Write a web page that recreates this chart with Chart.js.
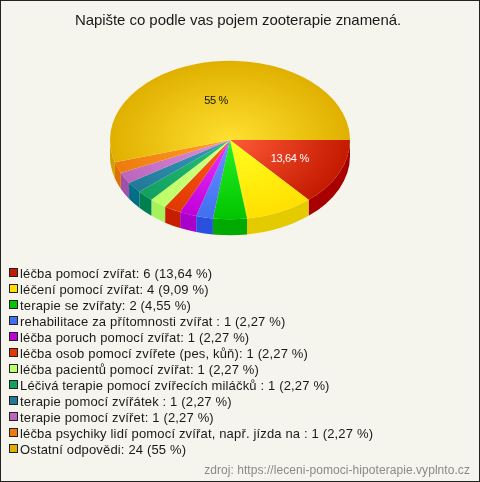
<!DOCTYPE html>
<html>
<head>
<meta charset="utf-8">
<script src="https://cdn.jsdelivr.net/npm/chart.js"></script>
<style>
html, body { margin: 0; padding: 0; background: #f5f5ee; }
#frame { position: relative; width: 478px; height: 480px; border: 1px solid #222; background: #f5f5ee; overflow: hidden; font-family: "Liberation Sans", Arial, sans-serif; color: #1a1a1a; }
canvas { position: absolute; left: -1px; top: -1px; }
#title { position: absolute; left: 0; top: 10px; width: 474px; text-align: center; font-size: 15px; line-height: 18px; letter-spacing: -0.05px; }
#legend { position: absolute; left: 8px; top: 265px; font-size: 13px; line-height: 16px; letter-spacing: 0.16px; }
#legend div { height: 16px; white-space: nowrap; }
#legend i { display: inline-block; width: 7px; height: 7px; border: 1px solid #222; margin-right: 2px; vertical-align: 1px; }
#source { position: absolute; right: 9px; top: 461px; font-size: 12px; line-height: 16px; letter-spacing: 0.06px; color: #8a8a8a; }
</style>
</head>
<body>
<div id="frame">
  <canvas id="pie" width="480" height="482"></canvas>
  <div id="title"></div>
  <div id="legend"></div>
  <div id="source"></div>
</div>
<script>
const titleText = "Napište co podle vas pojem zooterapie znamená.";
const sourceText = "zdroj: https://leceni-pomoci-hipoterapie.vyplnto.cz";
const categories = [
    "léčba pomocí zvířat",
    "léčení pomocí zvířat",
    "terapie se zvířaty",
    "rehabilitace za přítomnosti zvířat ",
    "léčba poruch pomocí zvířat",
    "léčba osob pomocí zvířete (pes, kůň)",
    "léčba pacientů pomocí zvířat",
    "Léčivá terapie pomocí zvířecích miláčků ",
    "terapie pomocí zvířátek ",
    "terapie pomocí zvířet",
    "léčba psychiky lidí pomocí zvířat, např. jízda na ",
    "Ostatní odpovědi"
];
const counts = [6, 4, 2, 1, 1, 1, 1, 1, 1, 1, 1, 24];
const percents = ["13,64", "9,09", "4,55", "2,27", "2,27", "2,27", "2,27", "2,27", "2,27", "2,27", "2,27", "55"];
const innerColors = ["#ff5a38", "#ffff22", "#26f226", "#6a92ff", "#ee35ff", "#ff5c1c", "#d8ff88", "#24c274", "#3a9cba", "#e08ee0", "#ffa224", "#ffe030"];
const outerColors = ["#c41a00", "#ffe000", "#00c400", "#4070f0", "#c000d8", "#e03800", "#bcff66", "#12a060", "#207a98", "#bb66bb", "#ee7a10", "#e0b000"];
const sideColors = ["#a80000", "#e3cb00", "#00aa00", "#2a50e0", "#aa00cc", "#c81e00", "#a5f25a", "#008050", "#006e87", "#a050a8", "#e07000", "#cfa000"];
const labelColors = ["#fff", null, null, null, null, null, null, null, null, null, null, "#111"];
const legendColors = ["#c41a00", "#ffe000", "#00c400", "#4070f0", "#c000d8", "#e03800", "#bcff66", "#12a060", "#207a98", "#bb66bb", "#ee7a10", "#e0b000"];

const squash = 0.66;
const depth = 16;

document.getElementById("title").textContent = titleText;
document.getElementById("source").textContent = sourceText;
const legendBox = document.getElementById("legend");
categories.forEach((name, i) => {
    const row = document.createElement("div");
    const box = document.createElement("i");
    box.style.background = legendColors[i];
    row.appendChild(box);
    row.appendChild(document.createTextNode(name + ": " + counts[i] + " (" + percents[i] + " %)"));
    legendBox.appendChild(row);
});

// tilted pie: squash the top face and draw the rim under it
const tiltPlugin = {
    id: "tilt",
    beforeDatasetsDraw(chart) {
        const ctx = chart.ctx;
        const arcs = chart.getDatasetMeta(0).data;
        ctx.save();
        arcs.forEach((arc, i) => {
            const a = Math.max(arc.startAngle, 0);
            const b = Math.min(arc.endAngle, Math.PI);
            if (b <= a) return;
            const ry = arc.outerRadius * squash;
            ctx.beginPath();
            ctx.ellipse(arc.x, arc.y, arc.outerRadius, ry, 0, a, b);
            ctx.ellipse(arc.x, arc.y + depth, arc.outerRadius, ry, 0, b, a, true);
            ctx.closePath();
            ctx.fillStyle = sideColors[i];
            ctx.fill();
        });
        const cy = arcs[0].y;
        ctx.translate(0, cy);
        ctx.scale(1, squash);
        ctx.translate(0, -cy);
    },
    afterDatasetsDraw(chart) {
        const ctx = chart.ctx;
        ctx.restore();
        ctx.font = '11px "Liberation Sans", Arial, sans-serif';
        ctx.letterSpacing = "-0.3px";
        ctx.textAlign = "center";
        ctx.textBaseline = "middle";
        chart.getDatasetMeta(0).data.forEach((arc, i) => {
            if (!labelColors[i]) return;
            const mid = (arc.startAngle + arc.endAngle) / 2;
            const r = arc.outerRadius * 0.52;
            // the source places its labels a little off the slice's middle line
            const nudge = i === 0 ? 3 : -5;
            ctx.fillStyle = labelColors[i];
            ctx.fillText(percents[i] + " %", arc.x + Math.cos(mid) * r + nudge, arc.y + Math.sin(mid) * r * squash + 2);
        });
    }
};

new Chart(document.getElementById("pie"), {
    type: "pie",
    data: {
        labels: categories,
        datasets: [{
            data: counts,
            borderWidth: 0,
            clip: false,
            backgroundColor: (c) => {
                const area = c.chart.chartArea;
                if (!area) return outerColors[c.dataIndex];
                const x = (area.left + area.right) / 2;
                const y = (area.top + area.bottom) / 2;
                const g = c.chart.ctx.createRadialGradient(x, y, 0, x, y, 120);
                g.addColorStop(0, innerColors[c.dataIndex]);
                g.addColorStop(1, outerColors[c.dataIndex]);
                return g;
            }
        }]
    },
    options: {
        responsive: false,
        animation: false,
        rotation: 90,
        layout: { padding: { left: 110, right: 130, top: 20, bottom: 222 } },
        plugins: { legend: { display: false }, tooltip: { enabled: false } }
    },
    plugins: [tiltPlugin]
});
</script>
</body>
</html>
